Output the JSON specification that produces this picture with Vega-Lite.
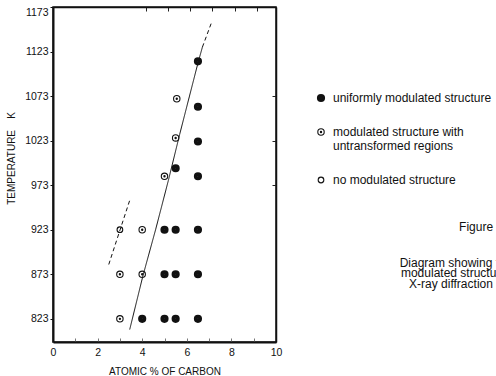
{
  "$schema": "https://vega.github.io/schema/vega-lite/v6.json",
  "width": 223,
  "height": 335,
  "autosize": {"type": "none"},
  "padding": {"left": 53, "top": 7, "right": 220, "bottom": 34},
  "background": "white",
  "title": {
    "text": "Figure 5.11",
    "subtitle": ["Diagram showing the presence of", "modulated structure as shown by", "X-ray diffraction and resistivity"],
    "orient": "top",
    "anchor": "start",
    "frame": "group",
    "align": "center",
    "dx": 436,
    "dy": 284,
    "offset": 0,
    "font": "Liberation Sans",
    "fontSize": 12,
    "fontWeight": "normal",
    "color": "#111",
    "subtitleFont": "Liberation Sans",
    "subtitleFontSize": 12,
    "subtitleColor": "#111",
    "subtitleLineHeight": 10.5,
    "subtitlePadding": 24
  },
  "datasets": {
    "points": [
      {"carbon": 6.5, "T": 1112, "type": "uniform"},
      {"carbon": 6.5, "T": 1061, "type": "uniform"},
      {"carbon": 6.5, "T": 1022, "type": "uniform"},
      {"carbon": 5.5, "T": 992, "type": "uniform"},
      {"carbon": 6.5, "T": 983, "type": "uniform"},
      {"carbon": 5, "T": 923, "type": "uniform"},
      {"carbon": 5.5, "T": 923, "type": "uniform"},
      {"carbon": 6.5, "T": 923, "type": "uniform"},
      {"carbon": 5, "T": 873, "type": "uniform"},
      {"carbon": 5.5, "T": 873, "type": "uniform"},
      {"carbon": 6.5, "T": 873, "type": "uniform"},
      {"carbon": 4, "T": 823, "type": "uniform"},
      {"carbon": 5, "T": 823, "type": "uniform"},
      {"carbon": 5.5, "T": 823, "type": "uniform"},
      {"carbon": 6.5, "T": 823, "type": "uniform"},
      {"carbon": 5.55, "T": 1070, "type": "partial"},
      {"carbon": 5.5, "T": 1026, "type": "partial"},
      {"carbon": 5, "T": 983, "type": "partial"},
      {"carbon": 4, "T": 923, "type": "partial"},
      {"carbon": 3, "T": 873, "type": "partial"},
      {"carbon": 4, "T": 873, "type": "partial"},
      {"carbon": 3, "T": 823, "type": "partial"},
      {"carbon": 3, "T": 923, "type": "none"}
    ],
    "curves": [
      {"seg": "main", "style": "solid", "carbon": 3.44, "T": 811},
      {"seg": "main", "style": "solid", "carbon": 4.04, "T": 872},
      {"seg": "main", "style": "solid", "carbon": 4.6, "T": 923},
      {"seg": "main", "style": "solid", "carbon": 5.17, "T": 978},
      {"seg": "main", "style": "solid", "carbon": 5.68, "T": 1030},
      {"seg": "main", "style": "solid", "carbon": 6.12, "T": 1073},
      {"seg": "main", "style": "solid", "carbon": 6.52, "T": 1112},
      {"seg": "main", "style": "solid", "carbon": 6.7, "T": 1128},
      {"seg": "top", "style": "dashed", "carbon": 6.7, "T": 1128},
      {"seg": "top", "style": "dashed", "carbon": 7.13, "T": 1157},
      {"seg": "left", "style": "dashed", "carbon": 2.5, "T": 884},
      {"seg": "left", "style": "dashed", "carbon": 3.44, "T": 956}
    ]
  },
  "layer": [
    {
      "data": {"name": "curves"},
      "mark": {"type": "line", "color": "#111", "strokeWidth": 1},
      "encoding": {
        "x": {
          "field": "carbon", "type": "quantitative",
          "scale": {"domain": [0, 10], "nice": false, "zero": false},
          "axis": {"orient": "top", "values": [4.15, 5.15, 6.15, 7.15, 8.15, 9.15], "labels": false, "title": null, "tickSize": -4, "tickColor": "#222", "domainColor": "#111", "domainWidth": 1.5, "grid": false}
        },
        "y": {
          "field": "T", "type": "quantitative",
          "scale": {"domain": [797, 1173], "nice": false, "zero": false},
          "axis": {"orient": "right", "values": [973, 1023, 1073], "labels": false, "title": null, "tickSize": -4, "tickColor": "#222", "domainColor": "#111", "domainWidth": 1.5, "grid": false}
        },
        "detail": {"field": "seg"},
        "strokeDash": {"field": "style", "type": "nominal", "scale": {"domain": ["solid", "dashed"], "range": [[1, 0], [4, 3]]}, "legend": null},
        "order": {"field": "T"}
      }
    },
    {
      "data": {"name": "points"},
      "mark": {"type": "point", "filled": false, "color": "#111", "strokeWidth": 1.1, "opacity": 1},
      "encoding": {
        "x": {
          "field": "carbon", "type": "quantitative",
          "scale": {"domain": [0, 10], "nice": false, "zero": false},
          "axis": {"orient": "bottom", "values": [0, 1, 2, 3, 4, 5, 6, 7, 8, 9, 10], "labelExpr": "datum.value % 2 === 0 ? datum.label : ''", "title": "ATOMIC % OF CARBON", "tickSize": -4, "tickColor": "#777", "labelPadding": 9, "labelFlush": false, "labelFont": "Liberation Sans", "labelFontSize": 10.5, "labelColor": "#111", "titleFont": "Liberation Sans", "titleFontSize": 10, "titleFontWeight": "normal", "titleColor": "#111", "titlePadding": 9, "domainColor": "#111", "domainWidth": 2, "grid": false}
        },
        "y": {
          "field": "T", "type": "quantitative",
          "scale": {"domain": [797, 1173], "nice": false, "zero": false},
          "axis": {"orient": "left", "values": [823, 873, 923, 973, 1023, 1073, 1123, 1173], "format": "d", "title": "TEMPERATURE\u00a0\u00a0\u00a0\u00a0K", "tickSize": 3, "tickColor": "#111", "labelPadding": 2, "labelFlush": true, "labelFont": "Liberation Sans", "labelFontSize": 10.5, "labelColor": "#111", "titleFont": "Liberation Sans", "titleFontSize": 10, "titleFontWeight": "normal", "titleColor": "#111", "titleX": -42, "titleY": 151, "titleAlign": "center", "titleBaseline": "middle", "domainColor": "#111", "domainWidth": 2, "grid": false}
        },
        "shape": {
          "field": "type", "type": "nominal",
          "scale": {"domain": ["uniform", "partial", "none"], "range": ["M-1,0A1,1 0 1,1 1,0A1,1 0 1,1 -1,0Z M-0.8,0A0.8,0.8 0 1,1 0.8,0A0.8,0.8 0 1,1 -0.8,0Z M-0.6,0A0.6,0.6 0 1,1 0.6,0A0.6,0.6 0 1,1 -0.6,0Z M-0.4,0A0.4,0.4 0 1,1 0.4,0A0.4,0.4 0 1,1 -0.4,0Z M-0.2,0A0.2,0.2 0 1,1 0.2,0A0.2,0.2 0 1,1 -0.2,0Z", "M-1,0A1,1 0 1,1 1,0A1,1 0 1,1 -1,0Z M-0.2,0A0.2,0.2 0 1,1 0.2,0A0.2,0.2 0 1,1 -0.2,0Z", "circle"]},
          "legend": {"orient": "none", "legendX": 262, "legendY": 85, "title": null, "padding": 0, "labelFont": "Liberation Sans", "labelFontSize": 12, "labelColor": "#111", "labelOffset": 6, "rowPadding": 22, "symbolStrokeWidth": 1.1, "symbolStrokeColor": "#111", "labelLimit": 300, "labelExpr": "datum.label === 'uniform' ? 'uniformly modulated structure' : datum.label === 'partial' ? ['modulated structure with', 'untransformed regions'] : 'no modulated structure'", "encode": {"symbols": {"stroke": {"value": "#111"}, "strokeWidth": {"value": 1.1}}}}
        },
        "size": {
          "field": "type", "type": "nominal",
          "scale": {"domain": ["uniform", "partial", "none"], "range": [50, 32, 36]},
          "legend": {"orient": "none", "legendX": 262, "legendY": 85, "title": null, "padding": 0, "labelFont": "Liberation Sans", "labelFontSize": 12, "labelColor": "#111", "labelOffset": 6, "rowPadding": 22, "symbolStrokeWidth": 1.1, "symbolStrokeColor": "#111", "labelLimit": 300, "labelExpr": "datum.label === 'uniform' ? 'uniformly modulated structure' : datum.label === 'partial' ? ['modulated structure with', 'untransformed regions'] : 'no modulated structure'", "encode": {"symbols": {"stroke": {"value": "#111"}, "strokeWidth": {"value": 1.1}}}}
        }
      }
    }
  ],
  "resolve": {"axis": {"x": "independent", "y": "independent"}},
  "config": {
    "view": {"stroke": "#111", "strokeWidth": 1.5},
    "font": "Liberation Sans"
  }
}
